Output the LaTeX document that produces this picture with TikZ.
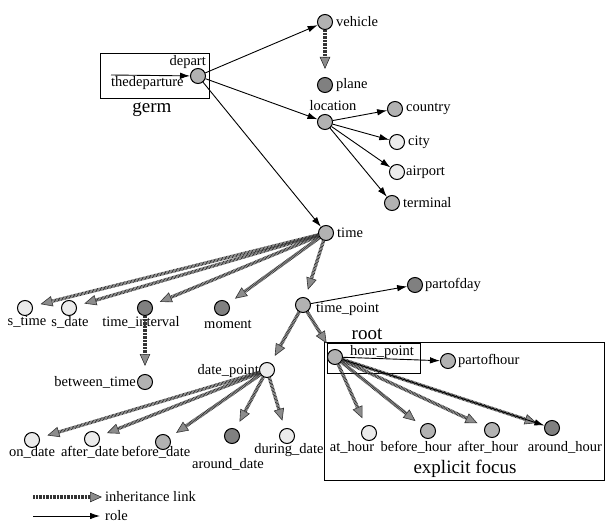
\documentclass[tikz,border=0pt]{standalone}
\usepackage{fontspec}
\setmainfont{Liberation Serif}
\usetikzlibrary{arrows.meta}
\begin{document}
\begin{tikzpicture}[x=1pt,y=-1pt,
  dot/.style={circle,draw=black,line width=1pt,minimum size=15pt,inner sep=0pt},
  dk/.style={dot,fill=black!50},
  md/.style={dot,fill=black!30},
  lt/.style={dot,fill=black!8},
  lab/.style={font=\fontsize{14.5}{16}\selectfont,inner sep=0pt},
  big/.style={font=\fontsize{19}{22}\selectfont,inner sep=0pt},
  role/.style={line width=0.9pt,-{Latex[length=10pt,width=6.5pt]}},
  inh/.style={draw=black!80,line width=3.4pt,dash pattern=on 0.8pt off 0.6pt,shorten >=8pt,
    -{Triangle[length=12pt,width=10.5pt,line width=0.6pt,fill=black!45]}},
  frame/.style={draw=black,line width=0.9pt,inner sep=0pt,anchor=north west}
]
\useasboundingbox (0,0) rectangle (606,532);

% boxes
\node[frame,minimum width=109pt,minimum height=45pt] (germbox) at (100,53) {};
\node[frame,minimum width=280pt,minimum height=138pt] (focusbox) at (324,342) {};
\node[frame,minimum width=93pt,minimum height=30pt] (rootbox) at (327,343) {};

% concept nodes
\node[md] (depart) at (198,76) {};
\node[md] (vehicle) at (325,22) {};
\node[dk] (plane) at (325,85) {};
\node[md] (location) at (325,122) {};
\node[md] (country) at (395,109) {};
\node[lt] (city) at (397,142) {};
\node[lt] (airport) at (397,172) {};
\node[md] (terminal) at (392,203) {};
\node[md] (time) at (326,233) {};
\node[lt] (stime) at (25,308) {};
\node[lt] (sdate) at (69,308) {};
\node[dk] (tint) at (145,308) {};
\node[dk] (moment) at (222,308) {};
\node[md] (tpoint) at (303,305) {};
\node[dk] (partofday) at (415,285) {};
\node[md] (btime) at (145,382) {};
\node[lt] (dpoint) at (267,370) {};
\node[md] (hpoint) at (335,357) {};
\node[md] (partofhour) at (448,361) {};
\node[lt] (ondate) at (32,440) {};
\node[lt] (afterdate) at (92,439) {};
\node[md] (beforedate) at (163,442) {};
\node[dk] (arounddate) at (232,436) {};
\node[lt] (duringdate) at (287,436) {};
\node[lt] (athour) at (369,433) {};
\node[md] (beforehour) at (428,431) {};
\node[md] (afterhour) at (492,430) {};
\node[dk] (aroundhour) at (552,428) {};

% labels
\node[lab,anchor=east] (departl) at (206,62) {depart};
\node[lab,anchor=west] (thedepl) at (111,83) {thedeparture};
\node[big] (germl) at (152,110) {germ};
\node[lab,anchor=west] (vehiclel) at (336,22) {vehicle};
\node[lab,anchor=west] (planel) at (336,85) {plane};
\node[lab] (locationl) at (333,106) {location};
\node[lab,anchor=west] (countryl) at (406,109) {country};
\node[lab,anchor=west] (cityl) at (408,142) {city};
\node[lab,anchor=west] (airportl) at (406,172) {airport};
\node[lab,anchor=west] (terminall) at (403,203) {terminal};
\node[lab,anchor=west] (timel) at (337,233) {time};
\node[lab] (stimel) at (27,322) {s\_time};
\node[lab] (sdatel) at (70,322) {s\_date};
\node[lab] (tintl) at (141,322) {time\_interval};
\node[lab] (momentl) at (228,324) {moment};
\node[lab,anchor=west] (tpointl) at (316,309) {time\_point};
\node[lab,anchor=west] (partofdayl) at (425,285) {partofday};
\node[lab,anchor=east] (btimel) at (136,382) {between\_time};
\node[lab,anchor=east] (dpointl) at (259,371) {date\_point};
\node[lab,anchor=west] (hpointl) at (350,352) {hour\_point};
\node[lab,anchor=west] (partofhourl) at (458,361) {partofhour};
\node[big] (rootl) at (367,334) {root};
\node[lab] (ondatel) at (32,452) {on\_date};
\node[lab] (afterdatel) at (90,452) {after\_date};
\node[lab] (beforedatel) at (156,452) {before\_date};
\node[lab] (arounddatel) at (228,464) {around\_date};
\node[lab] (duringdatel) at (289,450) {during\_date};
\node[lab] (athourl) at (352,447) {at\_hour};
\node[lab] (beforehourl) at (416,447) {before\_hour};
\node[lab] (afterhourl) at (488,447) {after\_hour};
\node[lab] (aroundhourl) at (565,447) {around\_hour};
\node[big] (focusl) at (465,469) {explicit focus};

% role links
\coordinate (ext) at (111,75);
\draw[role] (ext) -- (depart);
\draw[role] (depart) -- (vehicle);
\draw[role] (depart) -- (location);
\draw[role] (depart) -- (time);
\draw[role] (location) -- (country);
\draw[role] (location) -- (city);
\draw[role] (location) -- (airport);
\draw[role] (location) -- (terminal);
\draw[role] (tpoint) -- (partofday);
\draw[role] (hpoint) -- (partofhour);

% inheritance links
\draw[inh] (vehicle) -- (plane);
\draw[inh] (time) -- (stime);
\draw[inh] (time) -- (sdate);
\draw[inh] (time) -- (tint);
\draw[inh] (time) -- (moment);
\draw[inh] (time) -- (tpoint);
\draw[inh] (tint) -- (btime);
\draw[inh] (tpoint) -- (dpoint);
\draw[inh] (tpoint) -- (hpoint);
\draw[inh] (dpoint) -- (ondate);
\draw[inh] (dpoint) -- (afterdate);
\draw[inh] (dpoint) -- (beforedate);
\draw[inh] (dpoint) -- (arounddate);
\draw[inh] (dpoint) -- (duringdate);
\draw[inh] (hpoint) -- (athour);
\draw[inh] (hpoint) -- (beforehour);
\draw[inh] (hpoint) -- (afterhour);
\draw[inh] (hpoint) -- (aroundhour);
\draw[role] (hpoint) -- (aroundhour);

% legend
\coordinate (inhA) at (33,497);
\coordinate (inhB) at (102,497);
\coordinate (roleA) at (33,516);
\coordinate (roleB) at (100,516);
\draw[inh,shorten >=0pt] (inhA) -- (inhB);
\draw[role] (roleA) -- (roleB);
\node[lab,anchor=west] (inhl) at (105,497) {inheritance link};
\node[lab,anchor=west] (rolel) at (105,516) {role};
\end{tikzpicture}
\end{document}
